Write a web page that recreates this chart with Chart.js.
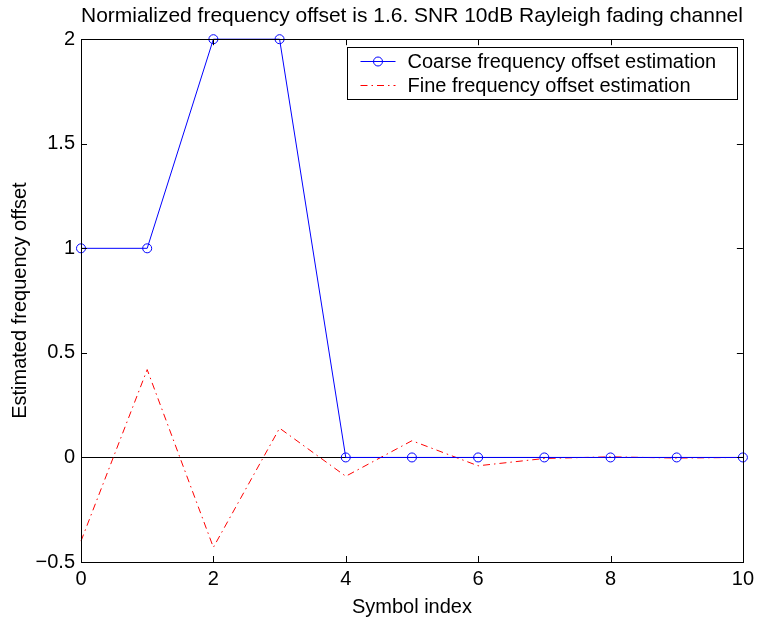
<!DOCTYPE html>
<html>
<head>
<meta charset="utf-8">
<title>Frequency offset estimation</title>
<script src="https://cdn.jsdelivr.net/npm/chart.js@4.4.0/dist/chart.umd.min.js"></script>
<style>
  body { margin: 0; background: #fff; }
  canvas { display: block; }
</style>
</head>
<body>
<canvas id="myChart" width="759" height="623"></canvas>
<script>
// data
const symbolIndex = [0, 1, 2, 3, 4, 5, 6, 7, 8, 9, 10];
const coarseOffset = [1, 1, 2, 2, 0, 0, 0, 0, 0, 0, 0];
const fineOffset = [-0.4, 0.42, -0.43, 0.14, -0.09, 0.08, -0.04, -0.005, 0.003, -0.003, 0];
const xTicks = [0, 2, 4, 6, 8, 10];
const yTicks = [-0.5, 0, 0.5, 1, 1.5, 2];
const seriesNames = ['Coarse frequency offset estimation', 'Fine frequency offset estimation'];

const FONT = 'Liberation Sans, Arial, Helvetica, sans-serif';
const FS = 20;

// matlab style box + inward ticks + legend in the top right corner
const matlabFrame = {
  id: 'matlabFrame',
  afterDraw(chart) {
    const ctx = chart.ctx;
    const a = chart.chartArea;
    const xs = chart.scales.x, ys = chart.scales.y;
    const tl = 6;
    ctx.save();
    ctx.strokeStyle = '#000';
    ctx.lineWidth = 1;
    ctx.beginPath();
    xTicks.forEach(v => {
      const px = Math.round(xs.getPixelForValue(v)) + 0.5;
      ctx.moveTo(px, a.bottom); ctx.lineTo(px, a.bottom - tl);
      ctx.moveTo(px, a.top); ctx.lineTo(px, a.top + tl);
    });
    yTicks.forEach(v => {
      const py = Math.round(ys.getPixelForValue(v)) + 0.5;
      ctx.moveTo(a.left, py); ctx.lineTo(a.left + tl, py);
      ctx.moveTo(a.right, py); ctx.lineTo(a.right - tl, py);
    });
    ctx.stroke();
    ctx.strokeRect(Math.round(a.left) + 0.5, Math.round(a.top) + 0.5,
      Math.round(a.right - a.left), Math.round(a.bottom - a.top));

    // legend
    const bx = 347.5, by = 47.5, bw = 390, bh = 52;
    ctx.fillStyle = '#fff';
    ctx.fillRect(bx, by, bw, bh);
    ctx.strokeRect(bx, by, bw, bh);
    ctx.font = FS + 'px ' + FONT;
    ctx.textBaseline = 'middle';
    ctx.fillStyle = '#000';
    const rows = [by + 13.5, by + 37.5];
    chart.data.datasets.forEach((ds, i) => {
      const y = Math.round(rows[i]) + 0.5;
      ctx.save();
      ctx.strokeStyle = ds.borderColor;
      ctx.setLineDash(ds.borderDash || []);
      ctx.beginPath();
      ctx.moveTo(bx + 13, y); ctx.lineTo(bx + 48, y);
      ctx.stroke();
      ctx.restore();
      if (ds.pointRadius > 0) {
        ctx.save();
        ctx.strokeStyle = ds.borderColor;
        ctx.beginPath();
        ctx.arc(bx + 30.5, y, 4.5, 0, Math.PI * 2);
        ctx.stroke();
        ctx.restore();
      }
      ctx.fillText(ds.label, bx + 60, y + 1);
    });
    ctx.restore();
  }
};

const ctx = document.getElementById('myChart').getContext('2d');
const chart = new Chart(ctx, {
  type: 'line',
  data: {
    datasets: [{
      label: seriesNames[0],
      data: symbolIndex.map((x, i) => ({ x: x, y: coarseOffset[i] })),
      borderColor: '#0000ff',
      backgroundColor: 'transparent',
      borderWidth: 1,
      pointRadius: 4.5,
      pointBorderWidth: 1,
      pointBorderColor: '#0000ff',
      pointBackgroundColor: 'transparent',
      tension: 0
    }, {
      label: seriesNames[1],
      data: symbolIndex.map((x, i) => ({ x: x, y: fineOffset[i] })),
      borderColor: '#ff0000',
      backgroundColor: 'transparent',
      borderWidth: 1,
      borderDash: [7, 4, 1.5, 4],
      pointRadius: 0,
      tension: 0
    }]
  },
  options: {
    responsive: false,
    animation: false,
    events: [],
    clip: false,
    layout: { padding: { left: 0, right: 12, top: 0, bottom: 0 } },
    plugins: {
      legend: { display: false },
      tooltip: { enabled: false },
      title: {
        display: true,
        fullSize: false,
        text: 'Normialized frequency offset is 1.6. SNR 10dB Rayleigh fading channel',
        color: '#000',
        font: { family: FONT, size: 21, weight: 'normal', lineHeight: 1.2 },
        padding: { top: 4, bottom: 10 }
      }
    },
    scales: {
      x: {
        type: 'linear',
        min: 0,
        max: 10,
        afterBuildTicks: s => { s.ticks = xTicks.map(v => ({ value: v })); },
        afterFit: s => { s.height = 61; },
        grid: { display: false, drawTicks: false },
        border: { display: false },
        ticks: {
          color: '#000',
          padding: 5,
          maxRotation: 0,
          font: { family: FONT, size: FS }
        },
        title: {
          display: true,
          text: 'Symbol index',
          color: '#000',
          font: { family: FONT, size: FS },
          padding: { top: 2, bottom: 4 }
        }
      },
      y: {
        min: -0.5,
        max: 2,
        afterBuildTicks: s => { s.ticks = yTicks.map(v => ({ value: v })); },
        afterFit: s => { s.width = 81; },
        grid: {
          drawTicks: false,
          color: c => (c.tick && c.tick.value === 0 ? '#000' : 'transparent'),
          lineWidth: 1
        },
        border: { display: false },
        ticks: {
          color: '#000',
          padding: 6,
          font: { family: FONT, size: FS },
          callback: v => String(v).replace('-', '\u2212')
        },
        title: {
          display: true,
          text: 'Estimated frequency offset',
          color: '#000',
          font: { family: FONT, size: FS },
          padding: { top: 8, bottom: 0 }
        }
      }
    }
  },
  plugins: [matlabFrame]
});
</script>
</body>
</html>
